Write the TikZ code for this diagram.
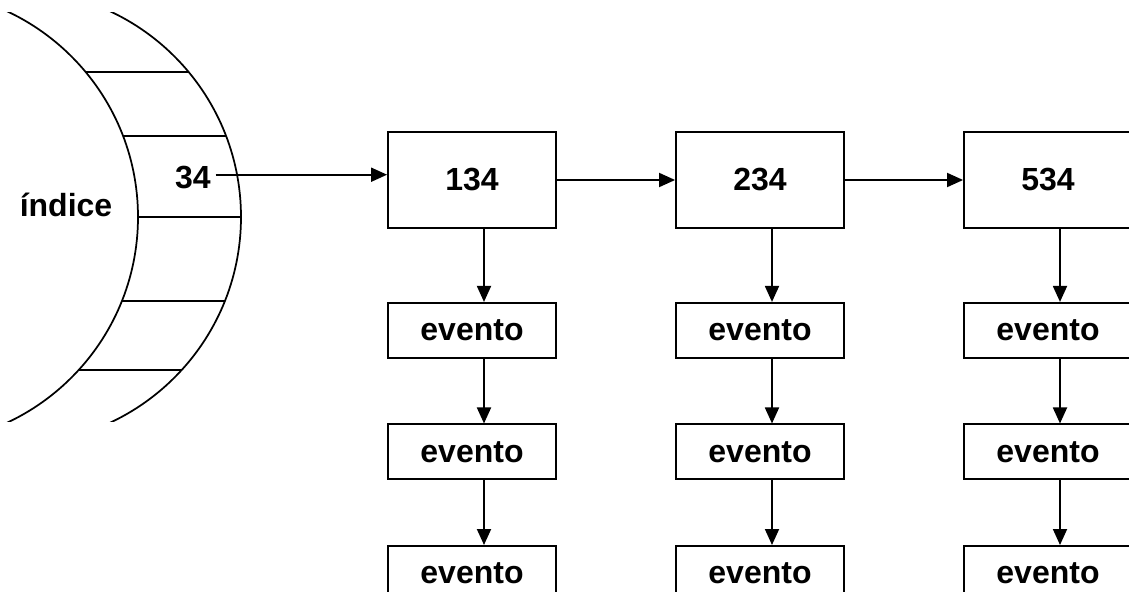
\documentclass[tikz,border=0pt]{standalone}
\usepackage{fontspec}
\setmainfont{Liberation Sans}[BoldFont={Liberation Sans Bold}]
\usetikzlibrary{positioning,arrows.meta,calc}

\tikzset{
  every node/.style={font=\bfseries\fontsize{24}{28}\selectfont},
  % --- nodes
  cell/.style   = {draw, line width=1.4pt, fill=white, minimum width=126pt, inner sep=0pt},
  chave/.style  = {cell, minimum height=72pt},
  evento/.style = {cell, minimum height=41.25pt},
  % --- edges
  e/.style      = {-{Triangle[length=12pt,width=10.5pt]}, line width=1.4pt},
  rung/.style   = {line width=1.3pt},
}

\begin{document}
\begin{tikzpicture}[x=0.75pt,y=-0.75pt]
  \useasboundingbox (0,0) rectangle (1129,592);
  \clip (0,0) rectangle (1129,592);

  % the index: a curved strip cut into slots
  \begin{scope}
    \clip (-10,13) rectangle (300,421);
    \draw[rung] (-89,217) circle[radius=227];
    \draw[rung] (14,217) circle[radius=227];
  \end{scope}
  \foreach \y in {72,136,217,301,370} {
    \pgfmathsetmacro\dx{100*sqrt(2.27^2-((\y-217)/100)^2)}
    \draw[rung] (-89+\dx,\y) -- (14+\dx,\y);
  }
  \node (indice) at (66,205) {índice};
  \node (k34) at (193,177.5) {34};

  % one column per key, each with its chain of events
  \foreach \lab [count=\i] in {134,234,534} {
    \node[chave] (b\i) at (184+288*\i,180) {\lab};
    \node[evento, below=54.75pt of b\i] (e\i1) {evento};
    \node[evento, below=48.5pt of e\i1] (e\i2) {evento};
    \node[evento, below=48.5pt of e\i2] (e\i3) {evento};
    \draw[e] ([xshift=9pt]b\i.south) -- ([xshift=9pt]e\i1.north);
    \draw[e] ([xshift=9pt]e\i1.south) -- ([xshift=9pt]e\i2.north);
    \draw[e] ([xshift=9pt]e\i2.south) -- ([xshift=9pt]e\i3.north);
  }

  \coordinate (src) at ([yshift=2.1pt]k34.east);
  \draw[e] (src) -- (src -| b1.west);
  \draw[e] (b1.east) -- (b2.west);
  \draw[e] (b2.east) -- (b3.west);
\end{tikzpicture}
\end{document}
